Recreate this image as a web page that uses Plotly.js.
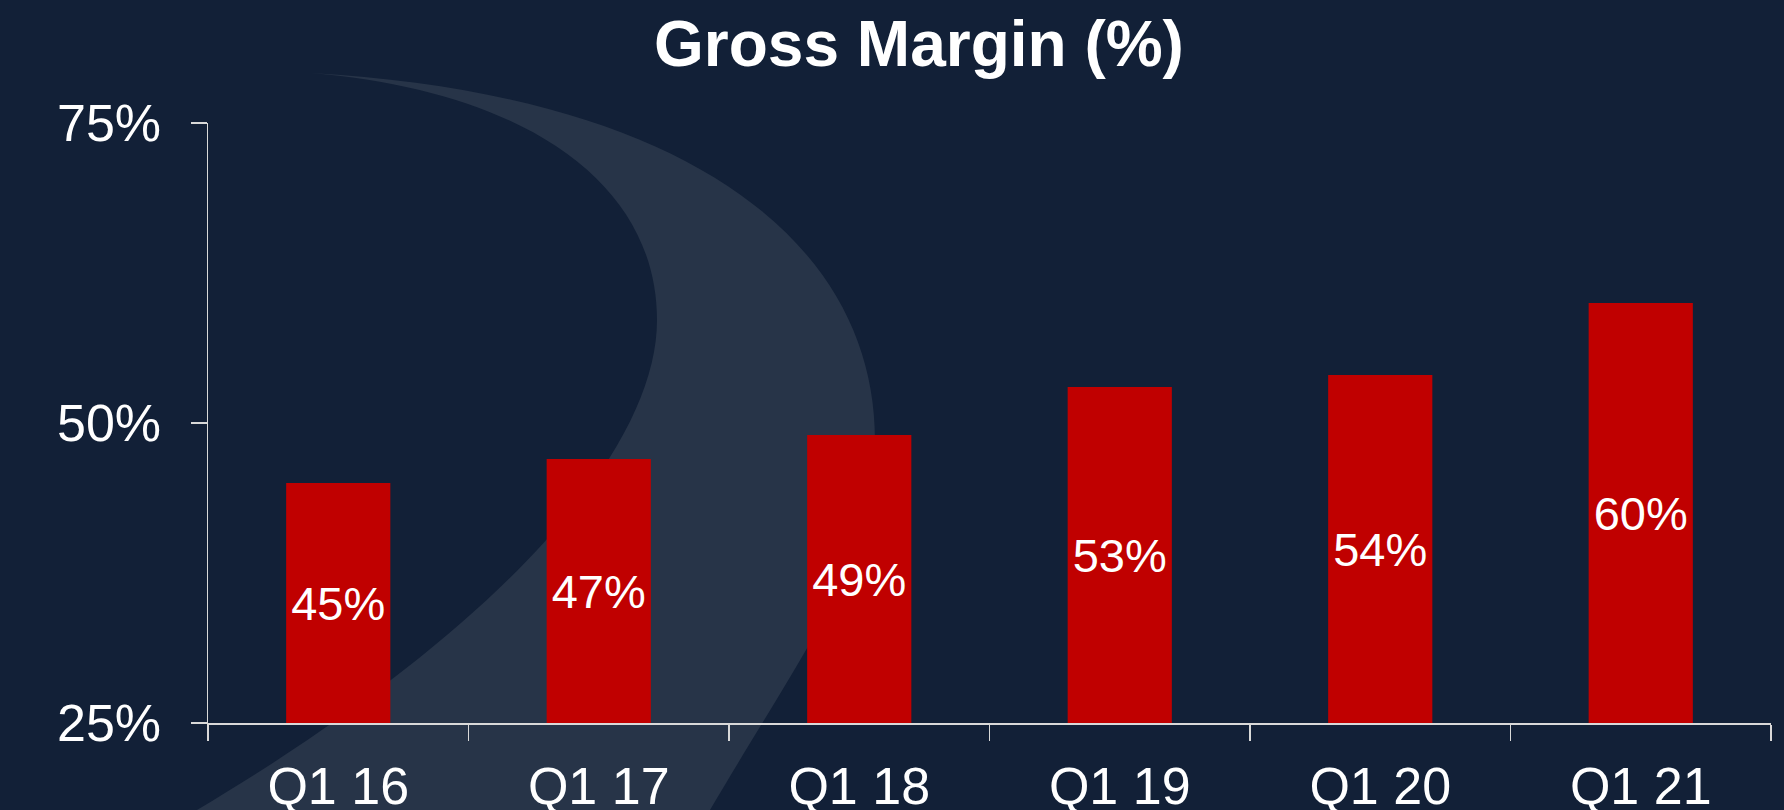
<!DOCTYPE html>
<html>
<head>
<meta charset="utf-8">
<script src="https://cdn.plot.ly/plotly-3.0.1.min.js"></script>
<style>
  html, body { margin: 0; padding: 0; background: #122037; }
  #chart { width: 1784px; height: 810px; }
</style>
</head>
<body>
<div id="chart"></div>
<script>
// ---- Data ----
const categories = ['Q1 16', 'Q1 17', 'Q1 18', 'Q1 19', 'Q1 20', 'Q1 21'];
const grossMargin = [45, 47, 49, 53, 54, 60];
const yTickValues = [25, 50, 75];
const yTickLabels = ['25%', '50%', '75%'];
const chartTitle = 'Gross Margin (%)';

// ---- Style ----
const BG = '#122037';
const SWOOSH = '#273448';
const BAR = '#C00000';
const AXIS = '#d9d9d9';
const FONT = 'Liberation Sans, Arial, sans-serif';

const W = 1784, H = 810;
const M = { l: 208, r: 13, t: 123, b: 87 };
const PL = M.l, PR = W - M.r, PT = M.t, PB = H - M.b;
const axisMin = yTickValues[0], axisMax = yTickValues[yTickValues.length - 1];

// decorative background crescent, outlined with cubic Bezier segments (pixels -> paper)
function px2paper(p) { return [(p[0] - PL) / (PR - PL), (PB - p[1]) / (PB - PT)]; }
function f(p) { const q = px2paper(p); return q[0].toFixed(5) + ',' + q[1].toFixed(5); }
const swooshPath =
  'M' + f([310, 73]) +
  ' C' + f([700, 95]) + ' ' + f([875, 250]) + ' ' + f([875, 440]) +
  ' C' + f([875, 560]) + ' ' + f([810, 640]) + ' ' + f([710, 810]) +
  ' L' + f([700, 840]) + ' L' + f([190, 840]) + ' L' + f([197, 810]) +
  ' C' + f([500, 630]) + ' ' + f([657, 450]) + ' ' + f([657, 320]) +
  ' C' + f([657, 180]) + ' ' + f([520, 90]) + ' ' + f([310, 73]) + ' Z';

const trace = {
  type: 'bar',
  x: categories,
  // bars rise from the axis floor (25%) to each value
  base: axisMin,
  y: grossMargin.map(v => v - axisMin),
  marker: { color: BAR, line: { width: 0 } },
  text: grossMargin.map(v => v + '%'),
  textposition: 'inside',
  insidetextanchor: 'middle',
  textangle: 0,
  constraintext: 'none',
  textfont: { family: FONT, size: 47, color: '#ffffff' },
  hoverinfo: 'skip'
};

const layout = {
  width: W,
  height: H,
  margin: M,
  paper_bgcolor: BG,
  plot_bgcolor: 'rgba(0,0,0,0)',
  showlegend: false,
  bargap: 0.6,
  font: { family: FONT, color: '#ffffff' },
  title: {
    text: '<b>' + chartTitle + '</b>',
    font: { family: FONT, size: 64, color: '#ffffff' },
    x: 919 / W,
    xref: 'container',
    xanchor: 'center',
    y: 1 - 21 / H,
    yref: 'container',
    yanchor: 'top'
  },
  xaxis: {
    type: 'category',
    showgrid: false,
    zeroline: false,
    showline: true,
    linecolor: AXIS,
    linewidth: 1.5,
    ticks: 'outside',
    tickson: 'boundaries',
    ticklen: 16,
    tickwidth: 1.5,
    tickcolor: AXIS,
    tickfont: { family: FONT, size: 52, color: '#ffffff' },
    ticklabelstandoff: 17,
    fixedrange: true
  },
  yaxis: {
    range: [axisMin, axisMax],
    tickvals: yTickValues,
    ticktext: yTickLabels,
    showgrid: false,
    zeroline: false,
    showline: true,
    linecolor: AXIS,
    linewidth: 1.5,
    ticks: 'outside',
    ticklen: 16,
    tickwidth: 1.5,
    tickcolor: AXIS,
    tickfont: { family: FONT, size: 52, color: '#ffffff' },
    ticklabelstandoff: 19,
    fixedrange: true
  },
  shapes: [{
    type: 'path',
    xref: 'paper',
    yref: 'paper',
    path: swooshPath,
    fillcolor: SWOOSH,
    line: { width: 0 },
    layer: 'below'
  }]
};

Plotly.newPlot('chart', [trace], layout, { staticPlot: true, displayModeBar: false });
</script>
</body>
</html>
